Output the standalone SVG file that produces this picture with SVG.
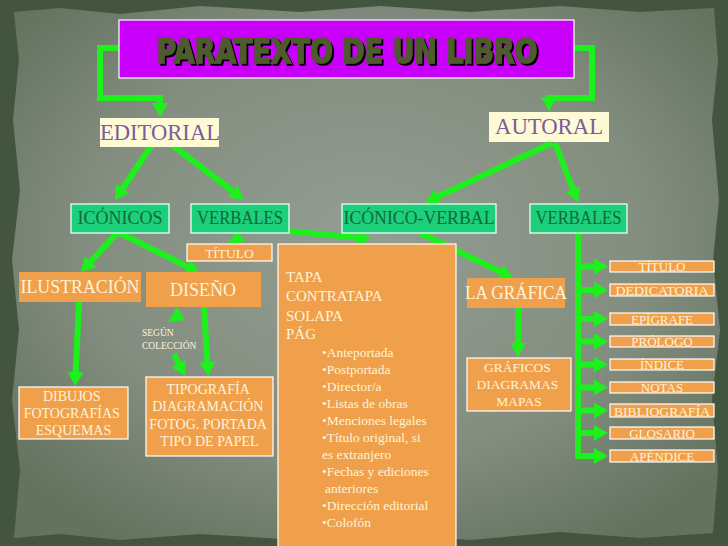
<svg xmlns="http://www.w3.org/2000/svg" width="728" height="546" viewBox="0 0 728 546">
<defs>
<radialGradient id="paper" cx="50%" cy="45%" r="65%">
<stop offset="0" stop-color="#939d92"/>
<stop offset="0.6" stop-color="#838e80"/>
<stop offset="1" stop-color="#65725f"/>
</radialGradient>
<filter id="shadow" x="-5%" y="-20%" width="110%" height="150%">
<feDropShadow dx="2" dy="2" stdDeviation="0.6" flood-color="#000000" flood-opacity="1"/>
</filter>
<marker id="ah" markerUnits="userSpaceOnUse" markerWidth="18" markerHeight="18" refX="3" refY="8" orient="auto">
<path d="M0,0 L14,8 L0,16 z" fill="#1ef01e"/>
</marker>
</defs>
<style>
.bg{fill:#44553f}
.con{fill:none;stroke:#1ef01e;stroke-width:6;stroke-linejoin:miter}
.arr{marker-end:url(#ah)}
.tip{fill:#1ef01e}
.grn{fill:#1ccf7b;stroke:#ffffff;stroke-width:1.2}
.org{fill:#f0a04b;stroke:#ffffff;stroke-width:1.2}
.orgn{fill:#f0a04b}
.cream{fill:#fffad6}
.t{font-family:"Liberation Serif","Times New Roman",serif;text-anchor:middle}
.tg{fill:#0e6a3a;font-size:18px}
.to{fill:#fff3da}
.tp{fill:#7b5c9c}
.tl{font-family:"Liberation Serif","Times New Roman",serif;fill:#fff3da}
</style>
<rect class="bg" x="0" y="0" width="728" height="546"/>
<polygon fill="url(#paper)" points="14,12 60,8 120,14 200,6 300,12 380,6 470,12 560,6 640,12 714,8 718,60 712,120 719,200 713,260 720,330 712,400 718,470 713,533 640,538 560,532 470,540 380,533 300,540 200,534 120,540 60,534 14,538 20,470 12,400 19,330 12,260 20,190 13,120 19,60"/>

<g id="connectors">
<polyline class="con arr" points="119,48 100,48 100,98 160,98 160,106"/>
<polyline class="con arr" points="574,48 592,48 592,98 549,98 549,100"/>
<line class="con arr" x1="153" y1="143" x2="121" y2="191"/>
<line class="con arr" x1="167" y1="141" x2="235" y2="193"/>
<line class="con arr" x1="552" y1="143" x2="435" y2="198"/>
<line class="con arr" x1="555" y1="143" x2="574" y2="192"/>
<line class="con arr" x1="118" y1="232" x2="88.5" y2="264"/>
<line class="con arr" x1="118" y1="232" x2="190" y2="268"/>
<polygon class="tip" points="237,231 228,243 246,242"/>
<line class="con" x1="237" y1="240" x2="236" y2="245"/>
<line class="con arr" x1="245" y1="227" x2="360" y2="238"/>
<line class="con arr" x1="420" y1="233" x2="503" y2="273"/>
<line class="con arr" x1="79" y1="302" x2="75.5" y2="375"/>
<line class="con arr" x1="204" y1="307" x2="207.5" y2="365"/>
<polygon class="tip" points="177,307 168,322 185,320"/>
<line class="con arr" x1="174" y1="354" x2="180" y2="366"/>
<line class="con arr" x1="518" y1="308" x2="518" y2="346"/>
<polyline class="con" points="578,233 578,456 590,456"/>
<line class="con arr" x1="578" y1="266.5" x2="597" y2="266.5"/>
<line class="con arr" x1="578" y1="290" x2="597" y2="290"/>
<line class="con arr" x1="578" y1="319" x2="597" y2="319"/>
<line class="con arr" x1="578" y1="341.5" x2="597" y2="341.5"/>
<line class="con arr" x1="578" y1="364.5" x2="597" y2="364.5"/>
<line class="con arr" x1="578" y1="387.5" x2="597" y2="387.5"/>
<line class="con arr" x1="578" y1="410.5" x2="597" y2="410.5"/>
<line class="con arr" x1="578" y1="433" x2="597" y2="433"/>
<line class="con arr" x1="578" y1="456" x2="597" y2="456"/>
</g>

<g id="title">
<rect x="119" y="20" width="455" height="58" fill="#c800fa" stroke="#ffffff" stroke-width="1.2"/>
<text x="347" y="63" font-family="'DejaVu Sans', sans-serif" font-weight="bold" font-size="34" fill="#4f5a2e" stroke="#4f5a2e" stroke-width="1.5" text-anchor="middle" textLength="381" lengthAdjust="spacingAndGlyphs" filter="url(#shadow)">PARATEXTO DE UN LIBRO</text>
</g>

<g id="editorial">
<rect class="cream" x="100" y="118" width="119" height="29"/>
<text class="t tp" x="160" y="140" font-size="24" textLength="120" lengthAdjust="spacingAndGlyphs">EDITORIAL</text>
</g>
<g id="autoral">
<rect class="cream" x="489" y="112" width="120" height="30"/>
<text class="t tp" x="549" y="134" font-size="23" textLength="108" lengthAdjust="spacingAndGlyphs">AUTORAL</text>
</g>

<g id="iconicos">
<rect class="grn" x="71" y="204" width="98" height="29"/>
<text class="t tg" x="120" y="224">ICÓNICOS</text>
</g>
<g id="verbales-ed">
<rect class="grn" x="191" y="204" width="98" height="29"/>
<text class="t tg" x="240" y="224" textLength="86" lengthAdjust="spacingAndGlyphs">VERBALES</text>
</g>
<g id="iconico-verbal">
<rect class="grn" x="342" y="204" width="154" height="29"/>
<text class="t tg" x="419" y="224" textLength="151" lengthAdjust="spacingAndGlyphs">ICÓNICO-VERBAL</text>
</g>
<g id="verbales-au">
<rect class="grn" x="530" y="204" width="97" height="29"/>
<text class="t tg" x="578.5" y="224" textLength="86" lengthAdjust="spacingAndGlyphs">VERBALES</text>
</g>

<g id="titulo-ed">
<rect class="org" x="187" y="244" width="85" height="17"/>
<text class="t to" x="229.5" y="258" font-size="13.5">TÍTULO</text>
</g>
<g id="ilustracion">
<rect class="orgn" x="19" y="272" width="122" height="30"/>
<text class="t to" x="80" y="293" font-size="18" textLength="119" lengthAdjust="spacingAndGlyphs">ILUSTRACIÓN</text>
</g>
<g id="diseno">
<rect class="orgn" x="146" y="272" width="115" height="35"/>
<text class="t to" x="203" y="296" font-size="18">DISEÑO</text>
</g>
<g id="paginas">
<rect class="org" x="278" y="244" width="178" height="310"/>
<text class="tl" x="286" y="282" font-size="15">TAPA</text>
<text class="tl" x="286" y="301" font-size="15">CONTRATAPA</text>
<text class="tl" x="286" y="321" font-size="15">SOLAPA</text>
<text class="tl" x="286" y="339" font-size="15">PÁG</text>
<text class="tl" font-size="13.5">
<tspan x="322" y="357">•Anteportada</tspan>
<tspan x="322" y="374">•Postportada</tspan>
<tspan x="322" y="391">•Director/a</tspan>
<tspan x="322" y="408">•Listas de obras</tspan>
<tspan x="322" y="425">•Menciones legales</tspan>
<tspan x="322" y="442">•Título original, si</tspan>
<tspan x="322" y="459">es extranjero</tspan>
<tspan x="322" y="476">•Fechas y ediciones</tspan>
<tspan x="325" y="493">anteriores</tspan>
<tspan x="322" y="510">•Dirección editorial</tspan>
<tspan x="322" y="527">•Colofón</tspan>
</text>
</g>
<g id="la-grafica">
<rect class="orgn" x="467" y="278" width="98" height="30"/>
<text class="t to" x="516" y="299" font-size="18" textLength="102" lengthAdjust="spacingAndGlyphs">LA GRÁFICA</text>
</g>
<g id="graficos">
<rect class="org" x="467" y="358" width="104" height="53"/>
<text class="t to" font-size="13.5">
<tspan x="519" y="372">GRÁFICOS</tspan>
<tspan x="519" y="389">DIAGRAMAS</tspan>
<tspan x="519" y="406">MAPAS</tspan>
</text>
</g>
<g id="dibujos">
<rect class="org" x="19" y="387" width="109" height="52"/>
<text class="t to" font-size="14">
<tspan x="73.5" y="401">DIBUJOS</tspan>
<tspan x="73.5" y="418">FOTOGRAFÍAS</tspan>
<tspan x="73.5" y="435">ESQUEMAS</tspan>
</text>
</g>
<g id="tipografia">
<rect class="org" x="146" y="377" width="127" height="79"/>
<text class="t to" font-size="14">
<tspan x="209.5" y="394">TIPOGRAFÍA</tspan>
<tspan x="209.5" y="411">DIAGRAMACIÓN</tspan>
<tspan x="209.5" y="429">FOTOG. PORTADA</tspan>
<tspan x="209.5" y="446">TIPO DE PAPEL</tspan>
</text>
</g>
<g id="segun-coleccion">
<text class="tl" font-size="9.5">
<tspan x="142" y="336">SEGÚN</tspan>
<tspan x="142" y="349">COLECCIÓN</tspan>
</text>
</g>

<g id="titulo-au"><rect class="org" x="610" y="261" width="104" height="11"/><text class="t to" x="662" y="271" font-size="13">TÍTULO</text></g>
<g id="dedicatoria"><rect class="org" x="610" y="284" width="104" height="12"/><text class="t to" x="662" y="295" font-size="13" textLength="93" lengthAdjust="spacingAndGlyphs">DEDICATORIA</text></g>
<g id="epigrafe"><rect class="org" x="610" y="313" width="104" height="12"/><text class="t to" x="662" y="324" font-size="13">EPÍGRAFE</text></g>
<g id="prologo"><rect class="org" x="610" y="336" width="104" height="11"/><text class="t to" x="662" y="346" font-size="13">PRÓLOGO</text></g>
<g id="indice"><rect class="org" x="610" y="359" width="104" height="11"/><text class="t to" x="662" y="369" font-size="13">ÍNDICE</text></g>
<g id="notas"><rect class="org" x="610" y="382" width="104" height="11"/><text class="t to" x="662" y="392" font-size="13">NOTAS</text></g>
<g id="bibliografia"><rect class="org" x="610" y="404" width="104" height="13"/><text class="t to" x="662" y="416" font-size="13" textLength="96" lengthAdjust="spacingAndGlyphs">BIBLIOGRAFÍA</text></g>
<g id="glosario"><rect class="org" x="610" y="427" width="104" height="12"/><text class="t to" x="662" y="438" font-size="13">GLOSARIO</text></g>
<g id="apendice"><rect class="org" x="610" y="450" width="104" height="12"/><text class="t to" x="662" y="461" font-size="13">APÉNDICE</text></g>
</svg>
